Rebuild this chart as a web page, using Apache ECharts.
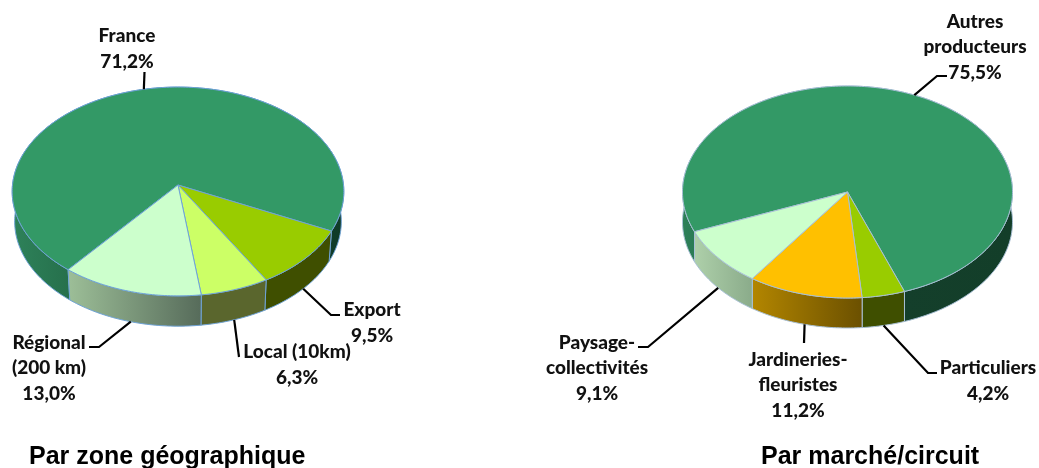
<!DOCTYPE html>
<html>
<head>
<meta charset="utf-8">
<style>
  html, body { margin: 0; background: #fff; }
  #chart { width: 1039px; height: 468px; }
</style>
<script src="https://cdn.jsdelivr.net/npm/echarts@6/dist/echarts.min.js"></script>
</head>
<body>
<div id="chart"></div>
<script>
// data
const zoneNames = ['France', 'Export', 'Local (10km)', 'Régional\n(200 km)']
const zoneValues = [71.2, 9.5, 6.3, 13.0]
const marcheNames = ['Autres\nproducteurs', 'Particuliers', 'Jardineries-\nfleuristes', 'Paysage-\ncollectivités']
const marcheValues = [75.5, 4.2, 11.2, 9.1]

const zoneTitle = 'Par zone géographique'
const marcheTitle = 'Par marché/circuit'

const zoneColors = ['#339966', '#99cc00', '#ccff66', '#ccffcc']
const marcheColors = ['#339966', '#99cc00', '#ffc000', '#ccffcc']

function sideFill(stops) {
  return {
    type: 'linear', x: 0, y: 0, x2: 1, y2: 0,
    colorStops: stops.map(s => ({offset: s[0], color: s[1]}))
  }
}

const zoneSides = [
  sideFill([[0, '#2e825a'], [0.17, '#26704c'], [0.9, '#123f2b'], [1, '#0f3a27']]),
  '#3f4f00',
  '#5a662d',
  sideFill([[0, '#9dbf98'], [1, '#566b5a']])
]
const marcheSides = [
  sideFill([[0, '#2d8059'], [0.05, '#2a7a54'], [0.66, '#143f2b'], [1, '#133e29']]),
  '#3f4f00',
  sideFill([[0, '#b38600'], [1, '#6b5000']]),
  sideFill([[0, '#aed0aa'], [1, '#8aab8a']])
]

// geometry of each tilted pie, k is the perspective, start the angle of the first slice
const zonePie = {
  cx: 178, cy: 185, rx: 165.5, ry: 104, k: 0.062, depth: 30, shrink: 0.985, start: 129.2,
  edge: '#6fa3d6', names: zoneNames, values: zoneValues, colors: zoneColors, sides: zoneSides,
  labels: [[127, 49], [372, 323], [297, 365], [49, 368]],
  elbows: [
    [[144.5, 72]],
    [[331, 315], [340, 315]],
    [[239, 357]],
    [[99, 347], [89, 347]]
  ]
}
const marchePie = {
  cx: 847.5, cy: 192, rx: 165, ry: 106, k: 0, depth: 30, shrink: 1, start: 158,
  edge: '#a8c0d6', names: marcheNames, values: marcheValues, colors: marcheColors, sides: marcheSides,
  labels: [[975, 47], [988, 381], [798, 385], [597, 368]],
  elbows: [
    [[937, 76], [947, 76]],
    [[928, 373], [937, 373]],
    [[804, 343]],
    [[648, 347], [638, 347]]
  ]
}

function rimPoint(pie, deg, lower) {
  let t = deg * Math.PI / 180
  let w = 1 - pie.k * Math.sin(t)
  let s = lower ? pie.shrink : 1
  let x = pie.cx + pie.rx * s * Math.cos(t) / w
  let y = pie.cy + (pie.ry * s * Math.sin(t) + (lower ? pie.depth : 0)) / w
  return [x, y]
}

// start and end angle of a slice, going clockwise from the first one
function sliceAngles(pie, index) {
  let before = 0
  for (let i = 0; i < index; i++) before += pie.values[i]
  let total = pie.values.reduce((a, b) => a + b, 0)
  let a0 = pie.start + before / total * 360
  return [a0, a0 + pie.values[index] / total * 360]
}

function arc(pie, a0, a1, lower) {
  let pts = []
  let n = Math.ceil(a1 - a0)
  for (let i = 0; i <= n; i++) {
    pts.push(rimPoint(pie, a0 + (a1 - a0) * i / n, lower))
  }
  return pts
}

function sideSeries(pie) {
  return {
    type: 'custom',
    coordinateSystem: 'none',
    silent: true,
    z: 1,
    data: pie.values,
    renderItem(params) {
      let [a0, a1] = sliceAngles(pie, params.dataIndex)
      let points = arc(pie, a0, a1, false).concat(arc(pie, a0, a1, true).reverse())
      return {
        type: 'polygon',
        shape: {points},
        style: {fill: pie.sides[params.dataIndex], stroke: pie.edge, lineWidth: 1}
      }
    }
  }
}

function topSeries(pie) {
  return {
    type: 'custom',
    coordinateSystem: 'none',
    silent: true,
    z: 2,
    data: pie.values,
    renderItem(params) {
      let [a0, a1] = sliceAngles(pie, params.dataIndex)
      let points = [[pie.cx, pie.cy]].concat(arc(pie, a0, a1, false))
      return {
        type: 'polygon',
        shape: {points},
        style: {fill: pie.colors[params.dataIndex], stroke: pie.edge, lineWidth: 1, lineJoin: 'round'}
      }
    }
  }
}

function labelSeries(pie) {
  return {
    type: 'custom',
    coordinateSystem: 'none',
    silent: true,
    z: 3,
    data: pie.values,
    renderItem(params) {
      let i = params.dataIndex
      let [a0, a1] = sliceAngles(pie, i)
      let mid = (a0 + a1) / 2
      let front = Math.sin(mid * Math.PI / 180) > 0
      let pct = pie.values[i].toFixed(1).replace('.', ',') + '%'
      return {
        type: 'group',
        children: [
          {
            type: 'polyline',
            shape: {points: [rimPoint(pie, mid, front)].concat(pie.elbows[i])},
            style: {fill: null, stroke: '#000', lineWidth: 2.2}
          },
          {
            type: 'text',
            style: {
              text: pie.names[i] + '\n' + pct,
              x: pie.labels[i][0],
              y: pie.labels[i][1],
              fill: '#111',
              fontFamily: 'Lato',
              fontWeight: 900,
              fontSize: 19,
              lineHeight: 25.6,
              align: 'center',
              verticalAlign: 'middle'
            }
          }
        ]
      }
    }
  }
}

const titleStyle = {fontFamily: 'Liberation Sans', fontWeight: 'bold', fontSize: 25, color: '#000'}

let chart = echarts.init(document.getElementById('chart'), null, {renderer: 'canvas'})
chart.setOption({
  animation: false,
  backgroundColor: '#fff',
  title: [
    {text: zoneTitle, left: 29, top: 445, padding: 0, textStyle: titleStyle},
    {text: marcheTitle, left: 761, top: 445, padding: 0, textStyle: titleStyle}
  ],
  series: [zonePie, marchePie].flatMap(pie => [sideSeries(pie), topSeries(pie), labelSeries(pie)])
})
</script>
</body>
</html>
